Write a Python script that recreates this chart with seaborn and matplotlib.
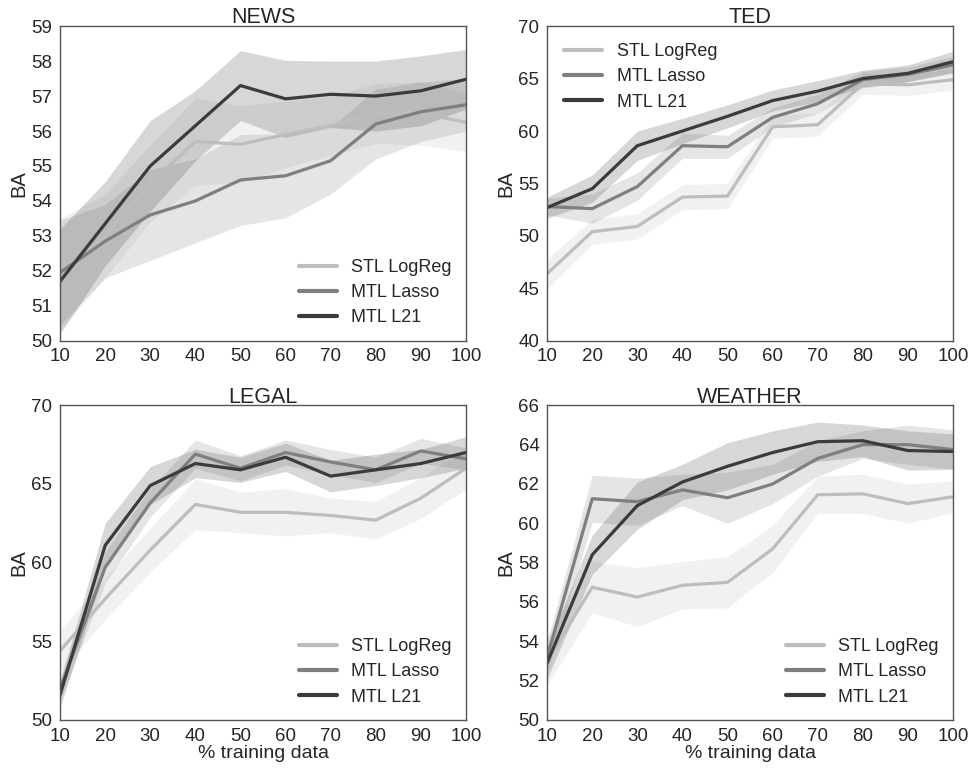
import numpy as np
import pandas as pd
import matplotlib
matplotlib.use("Agg")
import matplotlib.pyplot as plt
import seaborn as sns

x_pct = [10, 20, 30, 40, 50, 60, 70, 80, 90, 100]
methods = ["STL LogReg", "MTL Lasso", "MTL L21"]
panels = ["NEWS", "TED", "LEGAL", "WEATHER"]

# NEWS
news_stl = [51.9, 53.0, 54.5, 55.7, 55.62, 55.9, 56.15, 56.5, 56.5, 56.25]
news_lasso = [51.95, 52.85, 53.6, 54.0, 54.6, 54.72, 55.15, 56.2, 56.55, 56.75]
news_l21 = [51.7, 53.35, 55.0, 56.15, 57.3, 56.92, 57.05, 57.0, 57.15, 57.48]
news_stl_err = [1.6, 1.2, 1.1, 1.25, 1.1, 0.95, 0.85, 0.85, 0.9, 0.85]
news_lasso_err = [1.5, 1.05, 1.3, 1.2, 1.3, 1.2, 0.95, 1.0, 0.85, 0.75]
news_l21_err = [1.5, 1.2, 1.3, 1.0, 1.0, 1.1, 0.95, 1.0, 1.0, 0.85]

# TED
ted_stl = [46.4, 50.4, 50.9, 53.7, 53.8, 60.4, 60.6, 64.5, 64.4, 64.9]
ted_lasso = [52.8, 52.6, 54.7, 58.6, 58.5, 61.3, 62.6, 64.9, 65.4, 66.3]
ted_l21 = [52.7, 54.5, 58.6, 60.0, 61.4, 62.9, 63.8, 65.0, 65.5, 66.6]
ted_stl_err = [1.4, 1.2, 1.2, 1.2, 1.2, 1.1, 1.1, 1.0, 1.0, 1.0]
ted_lasso_err = [0.8, 1.4, 1.3, 1.2, 1.1, 0.9, 0.9, 0.8, 0.7, 0.8]
ted_l21_err = [1.0, 1.3, 1.4, 1.2, 1.1, 1.0, 1.0, 0.8, 0.8, 1.0]

# LEGAL
legal_stl = [54.4, 57.7, 60.8, 63.7, 63.2, 63.2, 63.0, 62.7, 64.1, 66.0]
legal_lasso = [52.0, 59.7, 63.8, 66.9, 66.0, 67.0, 66.4, 65.9, 67.1, 66.6]
legal_l21 = [51.6, 61.1, 64.9, 66.3, 65.9, 66.7, 65.5, 65.9, 66.3, 67.0]
legal_stl_err = [1.3, 1.3, 1.4, 1.6, 1.3, 1.5, 1.1, 1.2, 1.3, 1.3]
legal_lasso_err = [0.8, 1.0, 0.9, 0.9, 0.8, 0.8, 0.8, 0.8, 0.8, 0.7]
legal_l21_err = [0.8, 1.4, 1.2, 0.9, 0.8, 0.9, 1.0, 1.0, 0.9, 1.0]

# WEATHER
weather_stl = [53.0, 56.75, 56.25, 56.85, 57.0, 58.7, 61.45, 61.5, 61.0, 61.35]
weather_lasso = [53.2, 61.25, 61.1, 61.7, 61.3, 62.0, 63.3, 64.0, 64.0, 63.75]
weather_l21 = [52.9, 58.4, 60.9, 62.1, 62.9, 63.6, 64.15, 64.2, 63.7, 63.65]
weather_stl_err = [1.2, 1.3, 1.5, 1.2, 1.3, 1.2, 0.95, 1.0, 1.0, 0.8]
weather_lasso_err = [0.8, 1.2, 1.2, 0.8, 1.3, 1.0, 0.9, 0.7, 1.0, 1.0]
weather_l21_err = [0.8, 1.0, 1.2, 0.9, 1.2, 1.1, 1.0, 0.8, 1.0, 0.9]

panel_data = {
    "NEWS": ([news_stl, news_lasso, news_l21], [news_stl_err, news_lasso_err, news_l21_err]),
    "TED": ([ted_stl, ted_lasso, ted_l21], [ted_stl_err, ted_lasso_err, ted_l21_err]),
    "LEGAL": ([legal_stl, legal_lasso, legal_l21], [legal_stl_err, legal_lasso_err, legal_l21_err]),
    "WEATHER": ([weather_stl, weather_lasso, weather_l21], [weather_stl_err, weather_lasso_err, weather_l21_err]),
}
ylims = {"NEWS": (50, 59, 1), "TED": (40, 70, 5), "LEGAL": (50, 70, 5), "WEATHER": (50, 66, 2)}
legend_loc = {"NEWS": "lower right", "TED": "upper left", "LEGAL": "lower right", "WEATHER": "lower right"}

colors = ["#bdbdbd", "#7f7f7f", "#3b3b3b"]

sns.set_style("white")
plt.rcParams["font.family"] = ["Liberation Sans", "DejaVu Sans"]
plt.rcParams["axes.edgecolor"] = "#555555"

fig, axes = plt.subplots(2, 2, figsize=(9.69, 7.68), dpi=100)
fig.subplots_adjust(left=0.062, right=0.9835, top=0.966, bottom=0.0625, wspace=0.2, hspace=0.205)

for ax, name in zip(axes.flat, panels):
    means, errs = panel_data[name]
    rows = []
    for m, vals in zip(methods, means):
        for xv, yv in zip(x_pct, vals):
            rows.append({"x": xv, "BA": yv, "method": m})
    df = pd.DataFrame(rows)
    for m, vals, e, c in zip(methods, means, errs, colors):
        v = np.array(vals)
        ev = np.array(e)
        ax.fill_between(x_pct, v - ev, v + ev, color=c, alpha=0.2, linewidth=0)
    sns.lineplot(data=df, x="x", y="BA", hue="method", hue_order=methods,
                 palette=colors, linewidth=2.3, ax=ax, errorbar=None)
    lo, hi, step = ylims[name]
    ax.set_ylim(lo, hi)
    ax.set_yticks(np.arange(lo, hi + 0.01, step))
    ax.set_xlim(10, 100)
    ax.set_xticks(x_pct)
    ax.tick_params(labelsize=13.5, colors="#262626", pad=2)
    ax.set_title(name, fontsize=15.5, pad=2)
    ax.set_ylabel("BA", fontsize=14.5, labelpad=2)
    if name in ("LEGAL", "WEATHER"):
        ax.set_xlabel("% training data", fontsize=14, labelpad=0)
    else:
        ax.set_xlabel("")
    leg = ax.legend(loc=legend_loc[name], frameon=False, fontsize=13, handlelength=2.1,
                    handletextpad=0.8, labelspacing=0.45,
                    borderaxespad=0.4 if name != "TED" else 0.55)
    for line in leg.get_lines():
        line.set_linewidth(3)
    for sp in ax.spines.values():
        sp.set_linewidth(1.0)

fig.savefig("out.png", dpi=100)
